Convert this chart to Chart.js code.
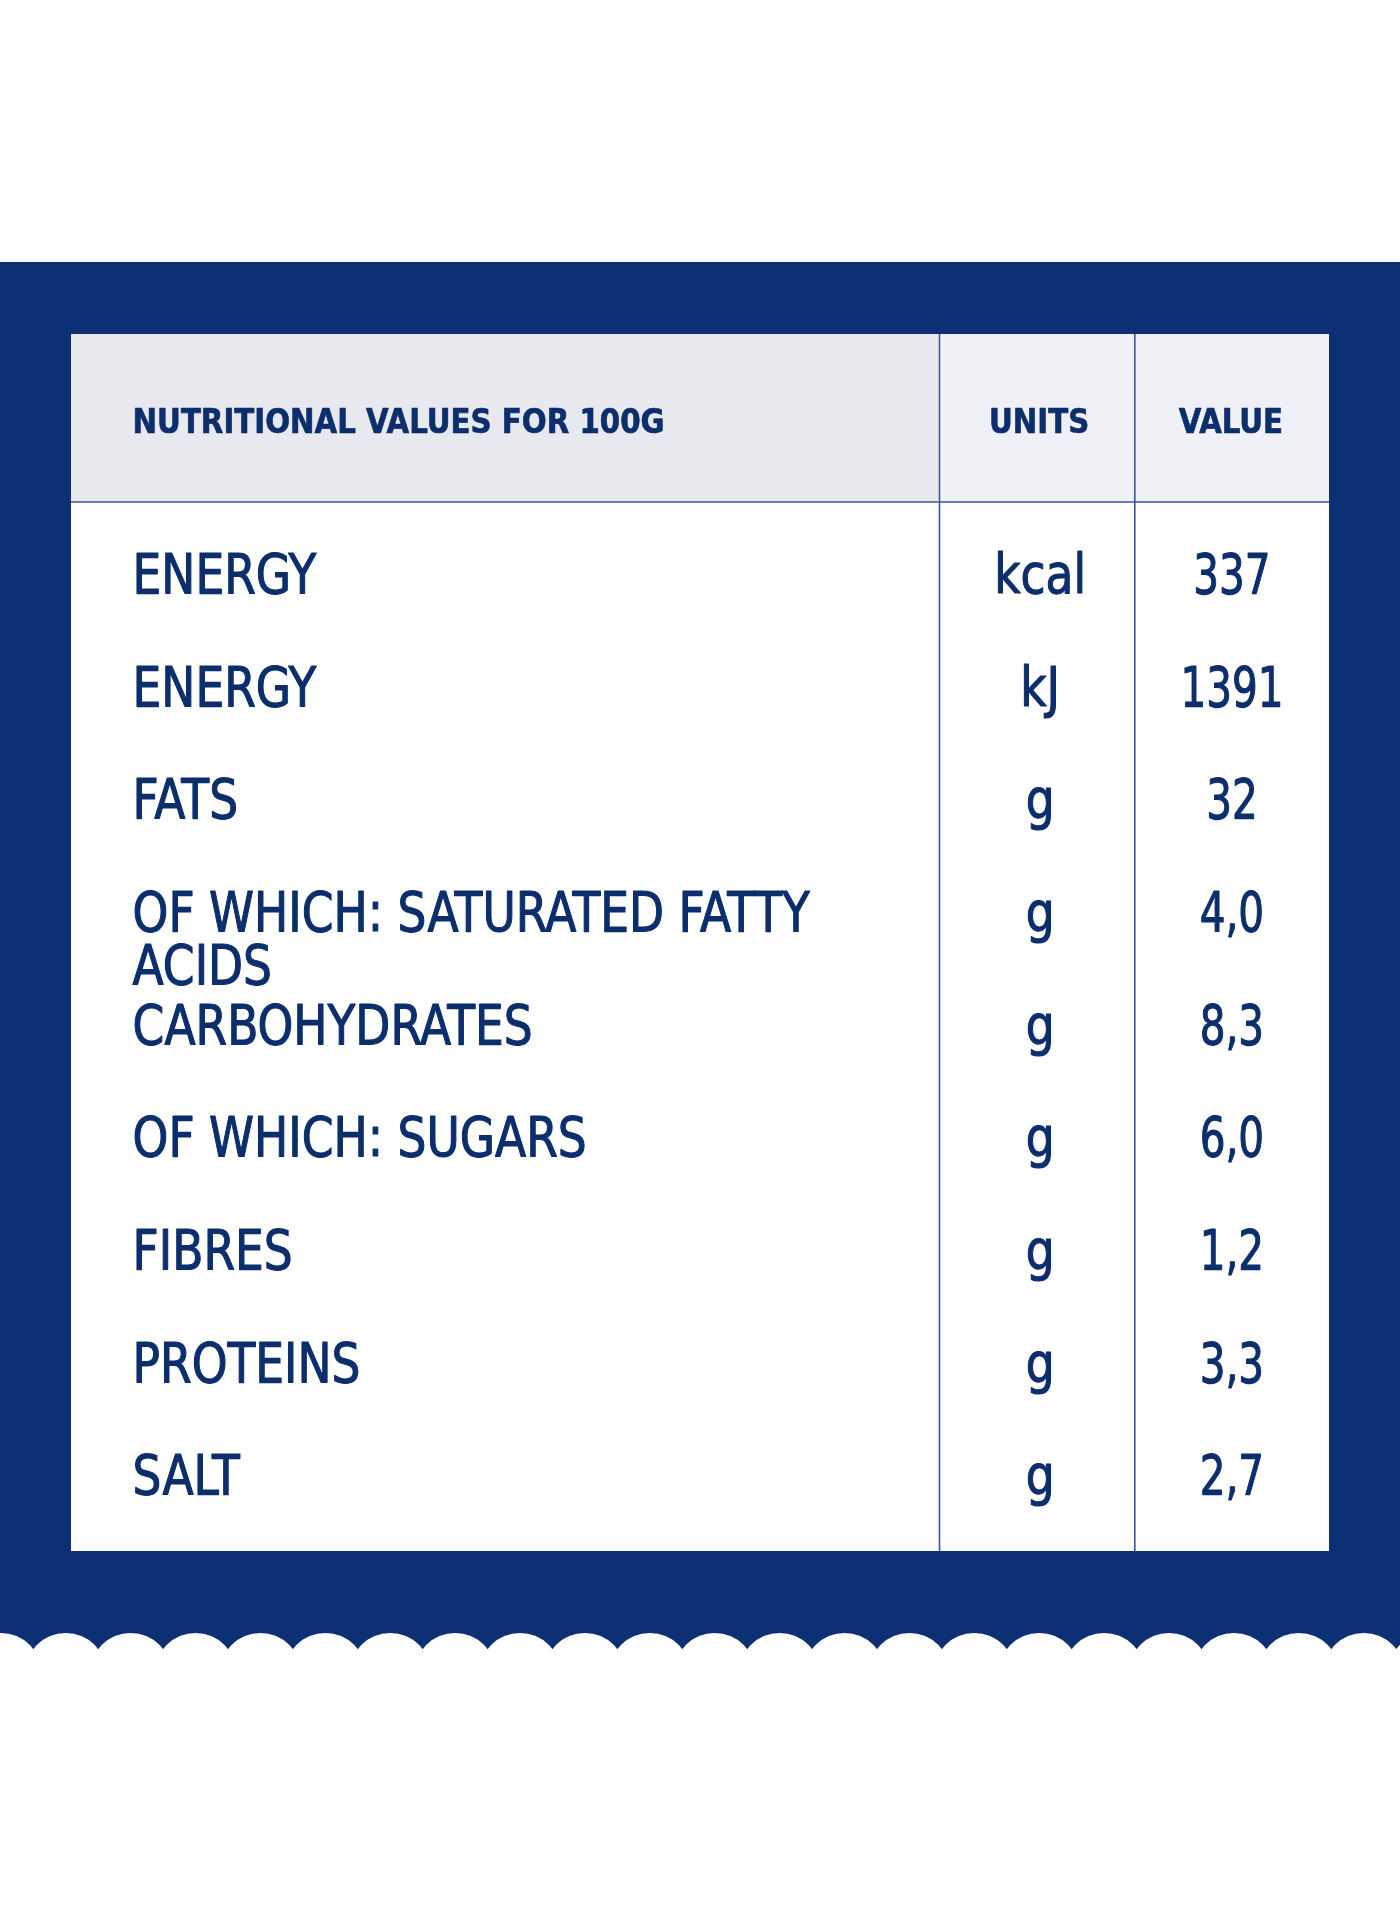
<!DOCTYPE html>
<html>
<head>
<meta charset="utf-8">
<title>Nutritional values</title>
<script src="https://cdn.jsdelivr.net/npm/chart.js"></script>
<style>
  html, body { margin: 0; padding: 0; background: #ffffff; }
  canvas { display: block; }
</style>
</head>
<body>
<canvas id="nutri-table" width="1400" height="1925"></canvas>
<script>
// table content
const headerLabels = ['NUTRITIONAL VALUES FOR 100G', 'UNITS', 'VALUE'];
const rowLabels = ['ENERGY', 'ENERGY', 'FATS', ['OF WHICH: SATURATED FATTY', 'ACIDS'],
  'CARBOHYDRATES', 'OF WHICH: SUGARS', 'FIBRES', 'PROTEINS', 'SALT'];
const unitLabels = ['kcal', 'kJ', 'g', 'g', 'g', 'g', 'g', 'g', 'g'];
const values = [337, 1391, 32, 4.0, 8.3, 6.0, 1.2, 3.3, 2.7];
const decimals = [0, 0, 0, 1, 1, 1, 1, 1, 1];

const BLUE = '#0d2f73';
const INK = '#0d2e6c';
const RULE = '#3a5896';
const FONT = "'DejaVu Sans Condensed', 'DejaVu Sans', sans-serif";

// frame geometry (page pixels)
const bandTop = 262, bandBottom = 1633;
const tableTop = 334, tableBottom = 1551, headTop = 334, headBottom = 502;
const colUnits = 939.5, colValue = 1134.8;

function fmt(v, d) {
  return v.toFixed(d).replace('.', ',');
}

function squeezeText(ctx, text, x, y, align, sx, weight) {
  ctx.save();
  ctx.translate(x, y);
  ctx.scale(sx, 1);
  ctx.textAlign = align;
  ctx.fillText(text, 0, 0);
  if (weight) {
    ctx.lineWidth = weight;
    ctx.lineJoin = 'round';
    ctx.strokeStyle = ctx.fillStyle;
    ctx.strokeText(text, 0, 0);
  }
  ctx.restore();
}

const tableFrame = {
  id: 'tableFrame',
  beforeDraw(chart) {
    const ctx = chart.ctx;
    const a = chart.chartArea;
    const W = chart.width;
    ctx.save();
    ctx.fillStyle = '#ffffff';
    ctx.fillRect(0, 0, W, chart.height);

    // blue band with scalloped bottom
    ctx.fillStyle = BLUE;
    ctx.fillRect(0, bandTop, W, bandBottom + 16 - bandTop);
    ctx.fillStyle = '#ffffff';
    const period = 64.9, r = 41;
    for (let cx = 0.85; cx < W + period; cx += period) {
      ctx.beginPath();
      ctx.arc(cx, bandBottom + r, r, 0, Math.PI * 2);
      ctx.fill();
    }

    // white table
    ctx.fillStyle = '#ffffff';
    ctx.fillRect(a.left, tableTop, a.right - a.left, tableBottom - tableTop);
    ctx.fillStyle = '#e8e9ef';
    ctx.fillRect(a.left, headTop, colUnits - a.left, headBottom - headTop);
    ctx.fillStyle = '#f0f1f6';
    ctx.fillRect(colUnits, headTop, a.right - colUnits, headBottom - headTop);

    ctx.strokeStyle = RULE;
    ctx.lineWidth = 1.6;
    ctx.beginPath();
    ctx.moveTo(a.left, headBottom); ctx.lineTo(a.right, headBottom);
    ctx.moveTo(colUnits, tableTop); ctx.lineTo(colUnits, tableBottom);
    ctx.moveTo(colValue, tableTop); ctx.lineTo(colValue, tableBottom);
    ctx.stroke();

    // header texts
    ctx.fillStyle = INK;
    ctx.textBaseline = 'alphabetic';
    ctx.font = 'bold 33px ' + FONT;
    const hs = 532 / ctx.measureText(headerLabels[0]).width;
    const hy = 432.5;
    squeezeText(ctx, headerLabels[0], 132.6, hy, 'left', hs, 0.6);
    squeezeText(ctx, headerLabels[1], (colUnits + colValue) / 2 + 2, hy, 'center', hs, 0.6);
    squeezeText(ctx, headerLabels[2], (colValue + a.right) / 2 - 1, hy, 'center', hs, 0.6);
    ctx.restore();
  },
  afterDatasetsDraw(chart) {
    const ctx = chart.ctx;
    const a = chart.chartArea;
    const yScale = chart.scales.y;
    const meta = chart.getDatasetMeta(0);
    ctx.save();
    ctx.fillStyle = INK;
    ctx.textBaseline = 'alphabetic';
    ctx.font = '55px ' + FONT;
    const bs = 400 / ctx.measureText('CARBOHYDRATES').width;
    const vs = 0.5 * (81 / ctx.measureText('337').width + 98 / ctx.measureText('1391').width);
    const capHalf = 19.8, lineGap = 52.5, heavy = 1.1;
    chart.data.labels.forEach((lab, i) => {
      const y = yScale.getPixelForValue(i) + capHalf;
      const lines = Array.isArray(lab) ? lab : [lab];
      lines.forEach((t, k) => squeezeText(ctx, t, 132.6, y + k * lineGap, 'left', bs, heavy));
      squeezeText(ctx, unitLabels[i], (colUnits + colValue) / 2 + 3, y, 'center', bs, heavy);
      const el = meta.data[i];
      const v = chart.data.datasets[0].data[i];
      squeezeText(ctx, fmt(v, decimals[i]), (colValue + a.right) / 2, el.y + capHalf, 'center', vs, heavy);
    });
    ctx.restore();
  }
};

new Chart(document.getElementById('nutri-table'), {
  type: 'bar',
  data: {
    labels: rowLabels,
    datasets: [{
      label: 'Value per 100 g',
      data: values,
      backgroundColor: 'rgba(0,0,0,0)',
      borderWidth: 0
    }]
  },
  options: {
    indexAxis: 'y',
    responsive: false,
    animation: false,
    devicePixelRatio: 1,
    layout: { padding: { left: 71, right: 71, top: 517, bottom: 394 } },
    scales: {
      x: { display: false, min: 0, max: 1400 },
      y: { display: false, offset: true }
    },
    plugins: {
      legend: { display: false },
      tooltip: { enabled: false },
      title: { display: false }
    }
  },
  plugins: [tableFrame]
});
</script>
</body>
</html>
